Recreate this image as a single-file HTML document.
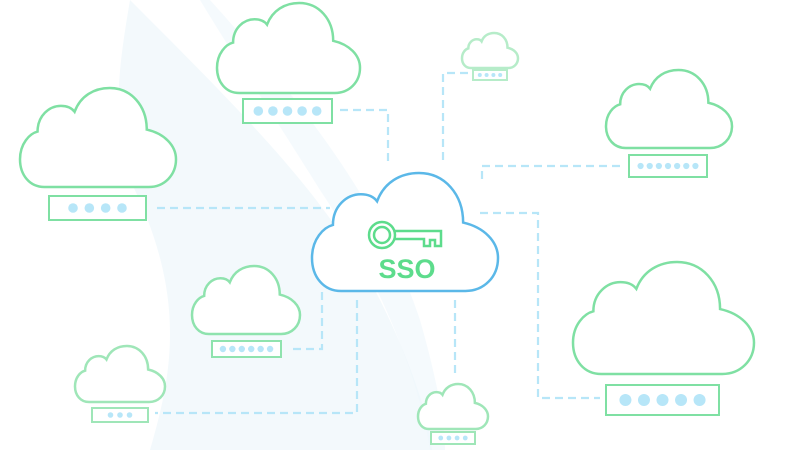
<!DOCTYPE html>
<html><head><meta charset="utf-8"><style>
html,body{margin:0;padding:0;background:#fff;width:800px;height:450px;overflow:hidden}
svg{display:block}
</style></head><body>
<svg id="s" width="800" height="450" viewBox="0 0 800 450" xmlns="http://www.w3.org/2000/svg">
<path d="M130 0 C250 120 330 200 380 300 C420 380 430 430 432 450 L150 450 C170 380 190 300 130 180 C110 120 120 60 130 0 Z" fill="#f3f9fc"/>
<path d="M210 0 C300 100 380 200 420 320 C440 390 445 430 445 450 L430 450 C420 380 380 280 320 190 C270 110 230 50 200 0Z" fill="#eef6fb" opacity="0.6"/>
<g fill="none" stroke="#b7e6f8" stroke-width="2.2" stroke-dasharray="8 5">
<path d="M157 208 H330"/>
<path d="M340 110 H388 V165"/>
<path d="M468 73 H443 V165"/>
<path d="M620 166 H482 V180"/>
<path d="M480 213 H538 V398 H600"/>
<path d="M322 292 V349 H288"/>
<path d="M357 300 V413 H155"/>
<path d="M455 300 V378"/>
</g>
<g id="g"></g>
<g transform="translate(368,218)" fill="none" stroke="#5ddc8c" stroke-width="2.5">
<circle cx="14" cy="17" r="13"/><circle cx="14" cy="17" r="8"/>
<path d="M27 13 H73 V28 H67 V22 H62 V28 H56 V21 H27"/>
</g>
<text x="407" y="278" text-anchor="middle" font-family="Liberation Sans, sans-serif" font-weight="bold" font-size="27" fill="#5ddc8c">SSO</text>
</svg>
<script>
var P="M25 100 C10 100 0 88 0 72 C0 56 10 46 18 44 C18 28 30 18 42 18 C48 18 53 20 56 24 C62 8 76 0 92 0 C114 0 130 18 130 42 C148 46 160 58 160 72 C160 88 148 100 132 100 Z";
var clouds=[
[20,88,156,99,'#7fe0a3',[49,196,97,24,4]],
[217,3,143,90,'#7fe0a3',[243,99,89,24,5]],
[462,33,56,35,'#b6ecc9',[473,70,34,10,4]],
[606,70,126,78,'#7fe0a3',[629,155,78,22,7]],
[312,173,186,118,'#5bb8e8',null],
[192,266,108,68,'#8fe3ae',[212,341,69,16,6]],
[75,346,90,56,'#9fe6b8',[92,408,56,14,3]],
[418,384,70,45,'#9fe6b8',[431,432,44,12,4]],
[573,262,181,112,'#7fe0a3',[606,385,113,30,5]]];
var h='';
clouds.forEach(function(c){
 h+='<path d="'+P+'" transform="translate('+c[0]+','+c[1]+') scale('+(c[2]/160)+','+(c[3]/100)+')" fill="#fff" stroke="'+c[4]+'" stroke-width="2.5" vector-effect="non-scaling-stroke"/>';
 var b=c[5]; if(!b)return;
 h+='<rect x="'+b[0]+'" y="'+b[1]+'" width="'+b[2]+'" height="'+b[3]+'" fill="#fff" stroke="'+c[4]+'" stroke-width="2"/>';
 var n=b[4], r0=b[3]*0.2, sp=Math.min(r0*3.4, b[2]*0.82/n), r=Math.min(r0, sp*0.34), cx=b[0]+b[2]/2, cy=b[1]+b[3]/2;
 for(var i=0;i<n;i++){h+='<circle cx="'+(cx+(i-(n-1)/2)*sp)+'" cy="'+cy+'" r="'+r+'" fill="#b7e6f8"/>';}
});
document.getElementById('g').innerHTML=h;
</script>
</body></html>
